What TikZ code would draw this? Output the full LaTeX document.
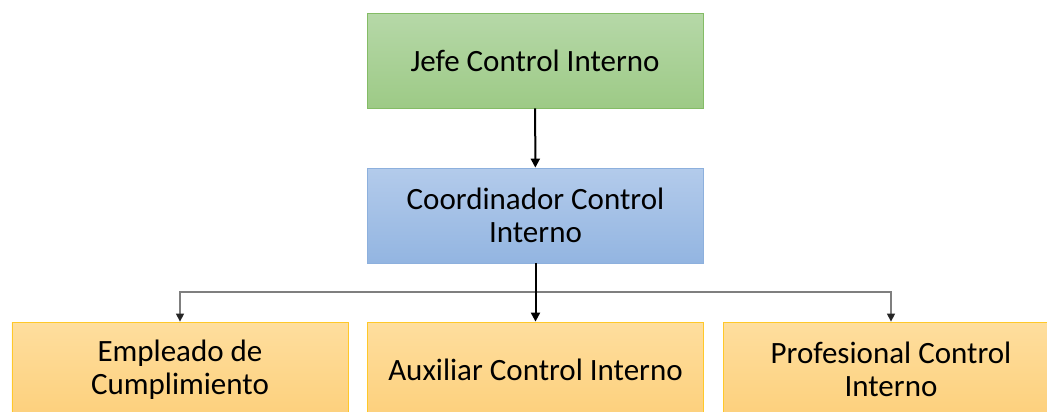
\documentclass[tikz,border=0pt]{standalone}
\usepackage{fontspec}
\setmainfont{Carlito}
\usetikzlibrary{arrows.meta}
\definecolor{greenTop}{HTML}{B6D8A8}
\definecolor{greenBot}{HTML}{9DCA86}
\definecolor{greenLine}{HTML}{84BC66}
\definecolor{blueTop}{HTML}{B3CBEB}
\definecolor{blueBot}{HTML}{93B5E1}
\definecolor{blueLine}{HTML}{8DB0DD}
\definecolor{orTop}{HTML}{FEDE9E}
\definecolor{orBot}{HTML}{FDD07C}
\definecolor{orLine}{HTML}{FFC829}
\definecolor{busGray}{HTML}{7F7F7F}
\tikzset{
  orgbox/.style={minimum width=336bp, minimum height=95bp, inner sep=0pt,
    align=center, font=\fontsize{31bp}{33bp}\selectfont, line width=0.8bp},
  greenbox/.style={orgbox, draw=greenLine, top color=greenTop, bottom color=greenBot},
  bluebox/.style={orgbox, draw=blueLine, top color=blueTop, bottom color=blueBot},
  orangebox/.style={orgbox, draw=orLine, top color=orTop, bottom color=orBot},
  mainlink/.style={line width=2bp, black, -{Triangle[length=9bp,width=9bp]}},
  sublink/.style={line width=1.3bp, busGray, -{Triangle[length=8bp,width=8bp,color=black!85,fill=black!85]}}
}
\begin{document}
\begin{tikzpicture}[x=1bp, y=-1bp]
  \useasboundingbox (0,0) rectangle (1047,411);
  \clip (0,0) rectangle (1047,411);
  \fill[white] (0,0) rectangle (1047,411);

  \node[greenbox] (jefe) at (535,60.5) {Jefe Control Interno};
  \node[bluebox] (coord) at (535.5,215.5) {Coordinador Control\\Interno};
  \node[orangebox] (emp) at (180,369.5) {Empleado de\\Cumplimiento};
  \node[orangebox] (aux) at (535.5,369.5) {Auxiliar Control Interno};
  \node[orangebox] (prof) at (891,369.5) {Profesional Control\\Interno};

  \coordinate (bus) at (535,292);

  \draw[sublink] (bus) -| (emp.north);
  \draw[sublink] (bus) -| (prof.north);
  \draw[mainlink] (jefe) -- (coord);
  \draw[mainlink] (coord) -- (aux);
\end{tikzpicture}
\end{document}
